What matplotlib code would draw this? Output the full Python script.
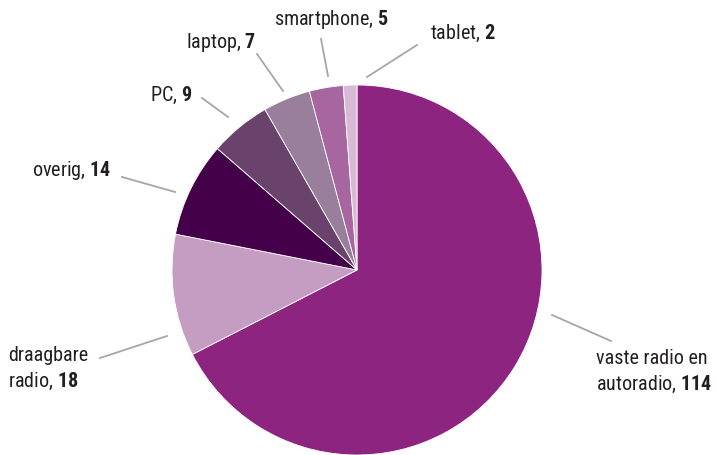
import matplotlib
matplotlib.use("Agg")
import matplotlib.pyplot as plt

# device share data
labels = ["vaste radio en\nautoradio", "draagbare\nradio", "overig", "PC", "laptop", "smartphone", "tablet"]
values = [114, 18, 14, 9, 7, 5, 2]
colors = ["#8D2580", "#C59DC3", "#45004A", "#6A436D", "#9A7F9C", "#A7669F", "#D8BAD6"]

font = "Roboto Condensed"
plt.rcParams["font.family"] = [font, "DejaVu Sans"]
plt.rcParams["mathtext.fontset"] = "custom"
plt.rcParams["mathtext.rm"] = font
plt.rcParams["mathtext.bf"] = font + ":bold"

fig = plt.figure(figsize=(7.16, 4.56), dpi=100)
ax = fig.add_axes([0, 0, 1, 1])

# pie drawn in pixel-like coordinates (y up), center (357, 185)
wedges, _ = ax.pie(values, colors=colors, startangle=90, counterclock=False,
                   center=(357, 185), radius=185, frame=True,
                   wedgeprops=dict(edgecolor="white", linewidth=0.6))
ax.set_xlim(0, 716)
ax.set_ylim(0, 456)
ax.set_aspect("equal")
ax.axis("off")

# leader line start, end and text position (pixels from top-left)
line_start = [(552, 316), (167, 337), (175, 193), (228, 118), (283, 92), (328, 77), (367, 78)]
line_end = [(611, 342), (100, 359), (122, 178), (202, 99), (257, 55), (321, 40), (417, 46)]
text_pos = [(596, 372), (8, 369), (32, 170), (150, 95), (186, 42), (274, 19), (430, 33)]

for lab, val, s, e, t in zip(labels, values, line_start, line_end, text_pos):
    ax.plot([s[0], e[0]], [456 - s[1], 456 - e[1]], color="#A6A6A6", lw=1.3)
    txt = lab + r", $\mathbf{" + str(val) + "}$"
    ax.text(t[0], 456 - t[1], txt, ha="left", va="center",
            fontsize=14.5, color="#231F20", linespacing=1.35)

fig.savefig("out.png", dpi=100)
